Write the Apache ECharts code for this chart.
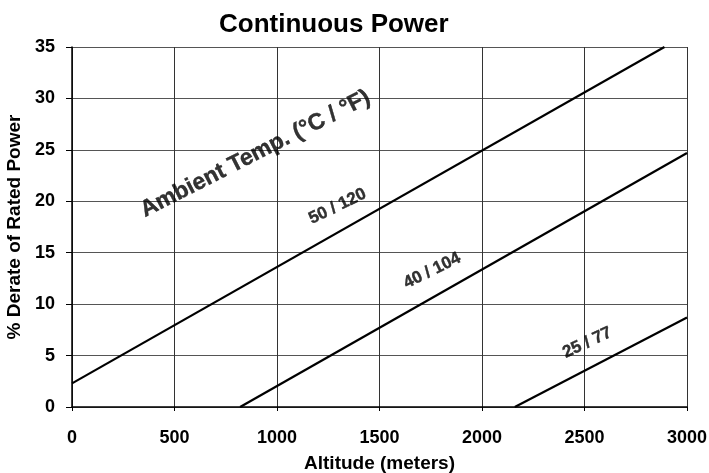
<!DOCTYPE html>
<html>
<head>
<meta charset="utf-8">
<script src="https://cdn.jsdelivr.net/npm/echarts@6/dist/echarts.min.js"></script>
<style>
  html, body { margin: 0; padding: 0; background: #fff; }
  #chart { width: 709px; height: 473px; }
</style>
</head>
<body>
<div id="chart"></div>
<script>
// derate lines, altitude (m) -> % derate
const temp50 = [[0, 2.3], [2890, 35]];
const temp40 = [[820, 0], [3000, 24.7]];
const temp25 = [[2160, 0], [3000, 8.7]];

// text on the plot: [altitude, derate, text]
const notes = [
  [895, 24.6, "Ambient Temp. (°C / °F)"],
  [1296, 19.5, "50 / 120"],
  [1757, 13.25, "40 / 104"],
  [2514, 6.25, "25 / 77"],
];
const noteSizes = [23, 17, 17, 17];
const noteAngles = [27, 26, 26, 25];

const font = "'Liberation Sans', Arial, sans-serif";

const chart = echarts.init(document.getElementById("chart"));

function derateLine(data) {
  return {
    type: "line",
    data: data,
    symbol: "none",
    silent: true,
    lineStyle: { color: "#000", width: 2.2 },
  };
}

chart.setOption({
  animation: false,
  textStyle: { fontFamily: font },
  title: {
    text: "Continuous Power",
    left: 214,
    top: 7,
    textStyle: { fontSize: 26, fontWeight: "bold", color: "#000", fontFamily: font },
  },
  grid: { left: 72, right: 22, top: 47, bottom: 66, outerBoundsMode: "none" },
  xAxis: {
    type: "value",
    min: 0,
    max: 3000,
    interval: 500,
    name: "Altitude (meters)",
    nameLocation: "middle",
    nameGap: 47,
    nameTextStyle: { fontSize: 19, fontWeight: "bold", color: "#000" },
    axisLine: { lineStyle: { color: "#000", width: 1.5 } },
    axisTick: { show: true, length: 4, lineStyle: { color: "#000" } },
    axisLabel: {
      fontSize: 18, fontWeight: "bold", color: "#000", margin: 22,
      formatter: (v) => String(v),
    },
    splitLine: { show: true, lineStyle: { color: "#333", width: 1 } },
  },
  yAxis: {
    type: "value",
    min: 0,
    max: 35,
    interval: 5,
    name: "% Derate of Rated Power",
    nameLocation: "middle",
    nameGap: 38,
    nameTextStyle: { fontSize: 19, fontWeight: "bold", color: "#000" },
    axisLine: { show: true, lineStyle: { color: "#000", width: 1.5 } },
    axisTick: { show: true, length: 6, lineStyle: { color: "#000" } },
    axisLabel: { fontSize: 18, fontWeight: "bold", color: "#000", margin: 17 },
    splitLine: { show: true, lineStyle: { color: "#555", width: 1 } },
  },
  series: [
    derateLine(temp50),
    derateLine(temp40),
    derateLine(temp25),
    {
      type: "scatter",
      symbolSize: 0,
      silent: true,
      itemStyle: { color: "#000" },
      data: notes.map((n, i) => ({
        value: [n[0], n[1]],
        label: {
          show: true,
          position: "inside",
          formatter: n[2],
          rotate: noteAngles[i],
          fontSize: noteSizes[i],
          fontWeight: "bold",
          color: "#000",
          textBorderWidth: 0.4,
          textBorderColor: "#000",
          fontFamily: font,
        },
      })),
    },
  ],
});
</script>
</body>
</html>
